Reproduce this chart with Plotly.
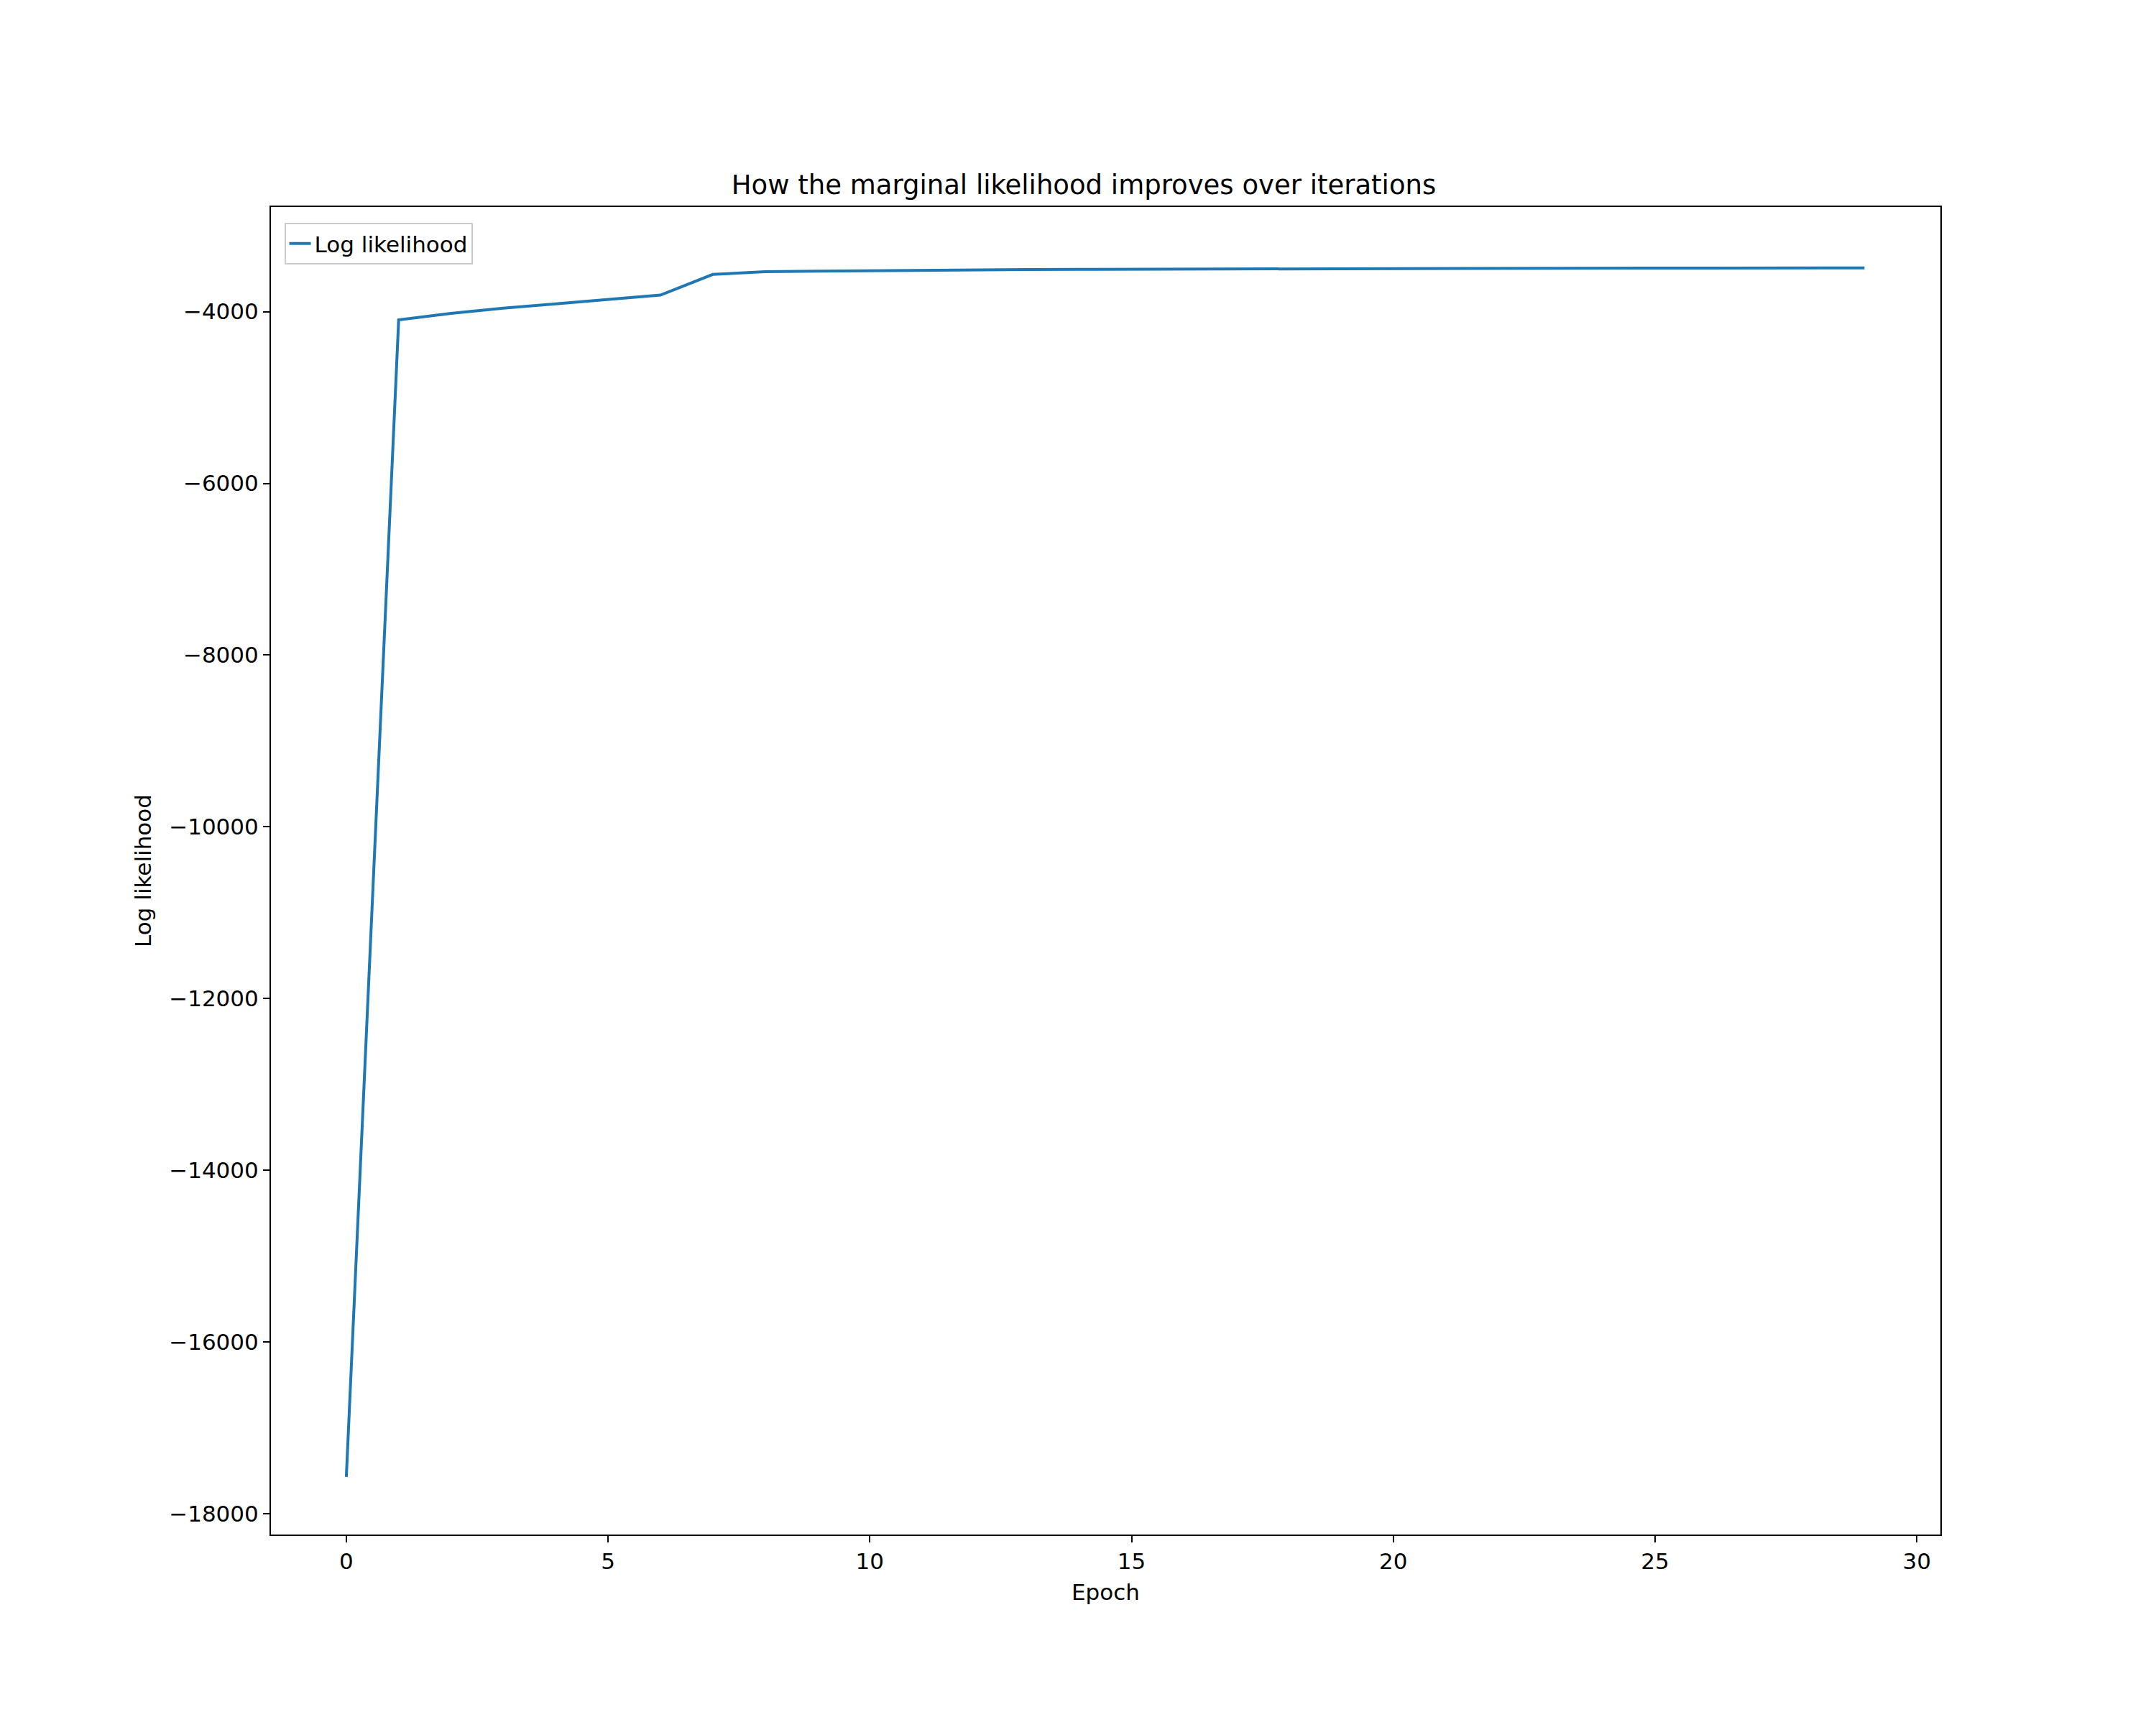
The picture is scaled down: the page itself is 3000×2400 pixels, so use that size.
import plotly.graph_objects as go

# Log likelihood per epoch
epochs = list(range(30))
log_likelihood = [-17570, -4096, -4020, -3960, -3910, -3860, -3808, -3567, -3535, -3528,
                  -3522, -3518, -3514, -3511, -3508, -3506, -3504, -3502, -3500, -3499,
                  -3498, -3497, -3496, -3495, -3494, -3493, -3493, -3492, -3492, -3491]

x_ticks = [0, 5, 10, 15, 20, 25, 30]
y_ticks = [-4000, -6000, -8000, -10000, -12000, -14000, -16000, -18000]
y_labels = ["\u2212" + str(abs(v)) for v in y_ticks]

fig = go.Figure()
fig.add_trace(go.Scatter(x=epochs, y=log_likelihood, mode="lines", name="Log likelihood",
                         line=dict(color="#1f77b4", width=4)))

axis_style = dict(showgrid=False, zeroline=False, showline=True, linecolor="black", linewidth=2,
                  mirror=True, ticks="outside", ticklen=9, tickwidth=2, tickcolor="black",
                  tickfont=dict(size=31, color="black"))

fig.update_layout(
    width=3000, height=2400,
    paper_bgcolor="white", plot_bgcolor="white",
    font=dict(family="DejaVu Sans", color="black"),
    title=dict(text="How the marginal likelihood improves over iterations", x=0.5, xanchor="center",
               y=1 - 262 / 2400, yanchor="bottom", font=dict(size=37)),
    margin=dict(l=369, r=308, t=280, b=273),
    xaxis=dict(range=[-1.44, 30.45], tickvals=x_ticks,
               title=dict(text="Epoch", font=dict(size=31)), **axis_style),
    yaxis=dict(range=[-18240, -2782], tickvals=y_ticks, ticktext=y_labels,
               title=dict(text="Log likelihood", font=dict(size=31)), **axis_style),
    showlegend=True,
    legend=dict(x=0.008, y=0.988, xanchor="left", yanchor="top", bgcolor="white",
                bordercolor="#cccccc", borderwidth=2, font=dict(size=31)),
)

fig.write_html("out.html")
